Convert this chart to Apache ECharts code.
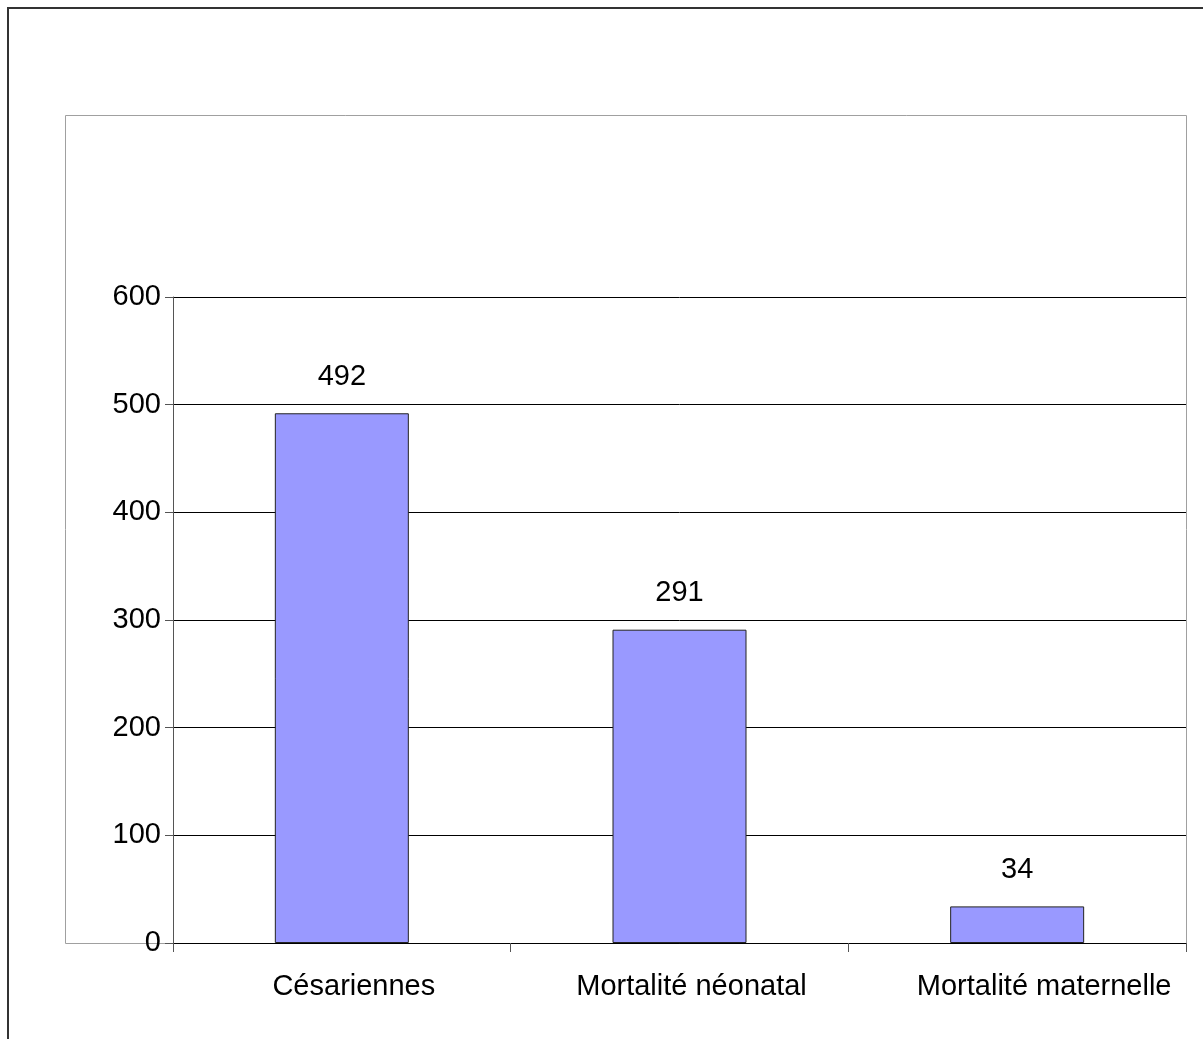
<!DOCTYPE html>
<html>
<head>
<meta charset="utf-8">
<script src="https://cdn.jsdelivr.net/npm/echarts@6/dist/echarts.min.js"></script>
<style>
  html, body { margin: 0; padding: 0; background: #fff; }
  #chart { width: 1203px; height: 1039px; }
</style>
</head>
<body>
<div id="chart"></div>
<script>
  // données
  var categories = ['Césariennes', 'Mortalité néonatal', 'Mortalité maternelle'];
  var values = [492, 291, 34];
  var yTicks = [0, 100, 200, 300, 400, 500, 600];

  var font = '"Liberation Sans", Arial, sans-serif';
  // décalage à droite des libellés de catégorie (px)
  var labelShift = [12, 12, 27];

  var chart = echarts.init(document.getElementById('chart'));

  var option = {
    animation: false,
    backgroundColor: '#fff',
    textStyle: { fontFamily: font },
    graphic: [
      {
        // cadre extérieur (coupé à droite et en bas)
        type: 'rect',
        shape: { x: 8, y: 8, width: 1300, height: 1200 },
        style: { fill: 'none', stroke: '#333', lineWidth: 2 },
        silent: true
      },
      {
        // cadre de la zone de traçage
        type: 'rect',
        shape: { x: 65.5, y: 115.5, width: 1121, height: 828 },
        style: { fill: 'none', stroke: '#a0a0a0', lineWidth: 1 },
        silent: true
      }
    ],
    grid: {
      left: 173,
      right: 17,
      top: 297,
      bottom: 96,
      containLabel: false
    },
    xAxis: {
      type: 'category',
      data: categories.map(function (c, i) {
        return { value: c, textStyle: { padding: [0, 0, 0, labelShift[i] * 2] } };
      }),
      axisLine: { show: true, lineStyle: { color: '#000', width: 1 } },
      axisTick: { show: true, length: 9, lineStyle: { color: '#555' } },
      axisLabel: {
        color: '#000',
        fontSize: 29,
        fontFamily: font,
        margin: 29,
        interval: 0
      },
      splitLine: { show: false }
    },
    yAxis: {
      type: 'value',
      min: yTicks[0],
      max: yTicks[yTicks.length - 1],
      interval: 100,
      axisLine: { show: true, lineStyle: { color: '#555', width: 1 } },
      axisTick: { show: true, length: 8, lineStyle: { color: '#555' } },
      axisLabel: {
        color: '#000',
        fontSize: 29,
        fontFamily: font,
        margin: 12
      },
      splitLine: { show: true, lineStyle: { color: '#000', width: 1 } }
    },
    series: [
      {
        type: 'bar',
        data: values,
        barWidth: 134,
        itemStyle: {
          color: '#9999FF',
          borderColor: '#222',
          borderWidth: 1
        },
        label: {
          show: true,
          position: 'top',
          distance: 22,
          color: '#000',
          fontSize: 29,
          fontFamily: font
        }
      }
    ]
  };

  chart.setOption(option);
  window.addEventListener('resize', function () {
    chart.resize();
  });
</script>
</body>
</html>
